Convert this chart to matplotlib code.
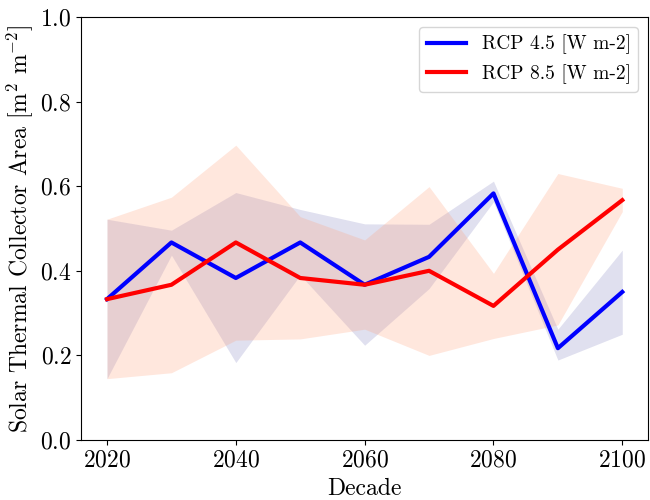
import numpy as np
import matplotlib
matplotlib.use("Agg")
import matplotlib.pyplot as plt

plt.rcParams['font.family'] = 'serif'
plt.rcParams['font.serif'] = ['cmr10']
plt.rcParams['mathtext.fontset'] = 'cm'
plt.rcParams['axes.formatter.use_mathtext'] = True

decades = [2020, 2030, 2040, 2050, 2060, 2070, 2080, 2090, 2100]

# RCP 4.5
rcp45 = [0.333, 0.467, 0.383, 0.467, 0.367, 0.433, 0.583, 0.217, 0.350]
rcp45_lo = [0.145, 0.437, 0.183, 0.390, 0.224, 0.358, 0.563, 0.189, 0.250]
rcp45_hi = [0.522, 0.496, 0.585, 0.545, 0.511, 0.510, 0.612, 0.262, 0.449]

# RCP 8.5
rcp85 = [0.333, 0.367, 0.467, 0.383, 0.367, 0.400, 0.317, 0.450, 0.567]
rcp85_lo = [0.145, 0.159, 0.236, 0.239, 0.262, 0.200, 0.240, 0.272, 0.540]
rcp85_hi = [0.522, 0.574, 0.697, 0.528, 0.473, 0.599, 0.394, 0.630, 0.595]

fig = plt.figure(figsize=(6.5, 5), dpi=100)
ax = fig.add_subplot(111)

ax.fill_between(decades, rcp45_lo, rcp45_hi, color='navy', alpha=0.12, linewidth=0)
ax.fill_between(decades, rcp85_lo, rcp85_hi, color='lightsalmon', alpha=0.25, linewidth=0)
ax.plot(decades, rcp45, color='blue', linewidth=3, label='RCP 4.5 [W m-2]')
ax.plot(decades, rcp85, color='red', linewidth=3, label='RCP 8.5 [W m-2]')

ax.set_ylim(0, 1)
ax.set_xticks([2020, 2040, 2060, 2080, 2100])
ax.tick_params(labelsize=17)
ax.set_xlabel('Decade', fontsize=17)
ax.set_ylabel(r'Solar Thermal Collector Area [m$^2$ m$^{-2}$]', fontsize=17)
ax.legend(loc='upper right', fontsize=14)

fig.subplots_adjust(left=0.125, right=0.997, bottom=0.12, top=0.966)
fig.savefig('out.png', dpi=100)
